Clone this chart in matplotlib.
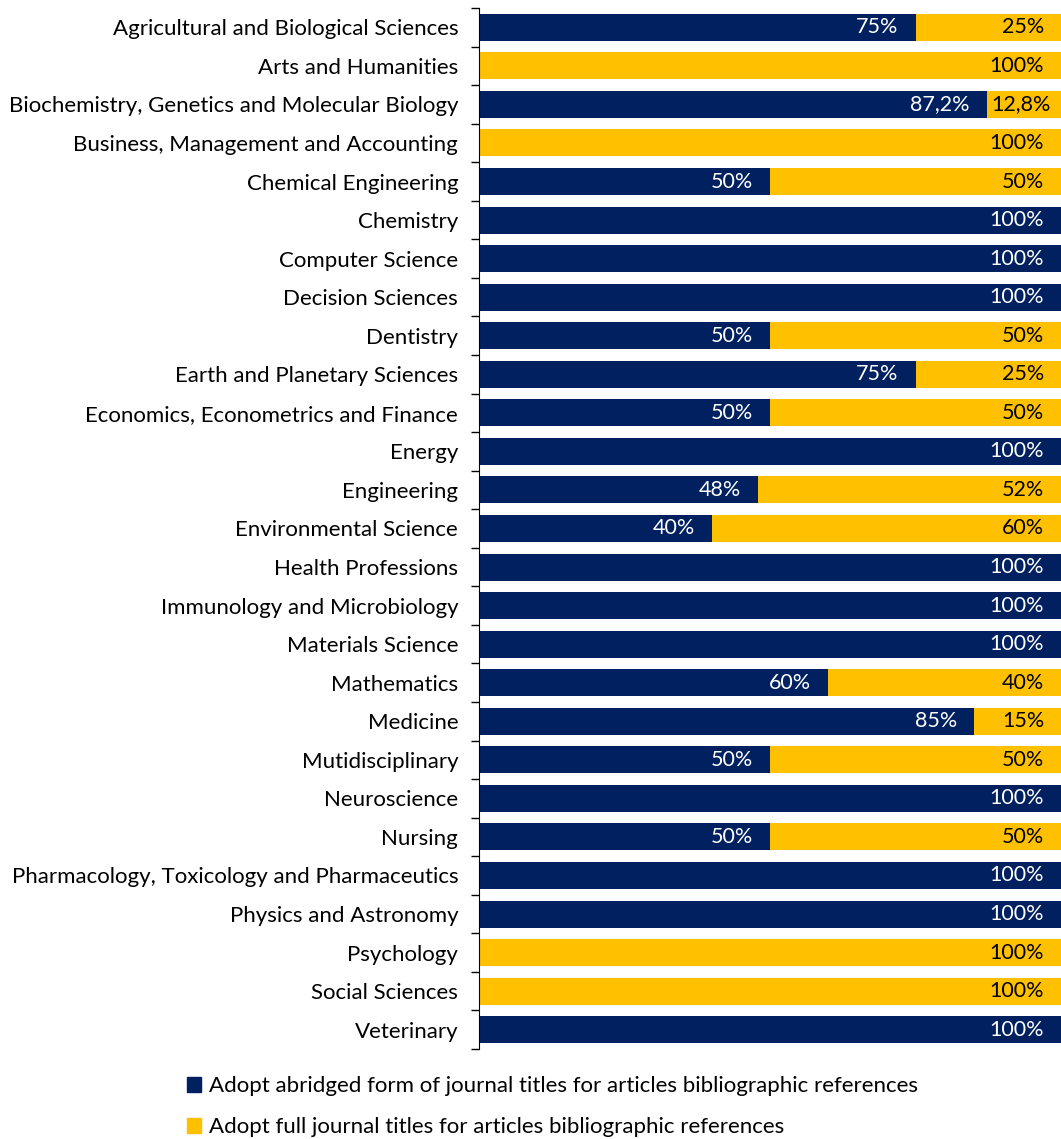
import numpy as np
import matplotlib.pyplot as plt
from matplotlib.patches import Patch

plt.rcParams['font.family'] = ['Lato', 'DejaVu Sans']

#categories (top to bottom)
categories = ['Agricultural and Biological Sciences', 'Arts and Humanities',
              'Biochemistry, Genetics and Molecular Biology', 'Business, Management and Accounting',
              'Chemical Engineering', 'Chemistry', 'Computer Science', 'Decision Sciences',
              'Dentistry', 'Earth and Planetary Sciences', 'Economics, Econometrics and Finance',
              'Energy', 'Engineering', 'Environmental Science', 'Health Professions',
              'Immunology and Microbiology', 'Materials Science', 'Mathematics', 'Medicine',
              'Mutidisciplinary', 'Neuroscience', 'Nursing',
              'Pharmacology, Toxicology and Pharmaceutics', 'Physics and Astronomy',
              'Psychology', 'Social Sciences', 'Veterinary']

#percent adopting abridged form / full titles
abridged = [75, 0, 87.2, 0, 50, 100, 100, 100, 50, 75, 50, 100, 48, 40, 100,
            100, 100, 60, 85, 50, 100, 50, 100, 100, 0, 0, 100]
full = [25, 100, 12.8, 100, 50, 0, 0, 0, 50, 25, 50, 0, 52, 60, 0,
        0, 0, 40, 15, 50, 0, 50, 0, 0, 100, 100, 0]

legend_labels = ['Adopt abridged form of journal titles for articles bibliographic references',
                 'Adopt full journal titles for articles bibliographic references']

navy = '#002060'
yellow = '#FFC000'


def fmt(v):
    if float(v).is_integer():
        return '%d%%' % v
    return ('%.1f%%' % v).replace('.', ',')


fig = plt.figure(figsize=(10.61, 11.39), dpi=100)
ax = fig.add_axes([479 / 1061, 90 / 1139, 582 / 1061, 1041 / 1139])

y = np.arange(len(categories))
ax.barh(y, abridged, height=0.7, color=navy)
ax.barh(y, full, left=abridged, height=0.7, color=yellow)

pad = 2.9
for i in range(len(categories)):
    if abridged[i] > 0:
        ax.text(abridged[i] - pad, y[i], fmt(abridged[i]), ha='right', va='center',
                color='white', fontsize=15.5)
    if full[i] > 0:
        # small segments: keep label just right of the segment start
        if full[i] < 14:
            ax.text(abridged[i] + 0.8, y[i], fmt(full[i]), ha='left', va='center',
                    color='black', fontsize=15.5)
        else:
            ax.text(abridged[i] + full[i] - pad, y[i], fmt(full[i]), ha='right', va='center',
                    color='black', fontsize=15.5)

ax.set_xlim(0, 100)
ax.set_ylim(len(categories) - 0.5, -0.5)
ax.set_yticks(y)
ax.set_yticklabels(categories, fontsize=16)
ax.set_yticks(np.arange(len(categories) + 1) - 0.5, minor=True)
ax.tick_params(axis='y', which='major', length=0, pad=15)
ax.tick_params(axis='y', which='minor', length=6, width=1, color='black')
ax.set_xticks([])
for s in ['top', 'right', 'bottom']:
    ax.spines[s].set_visible(False)
ax.spines['left'].set_color('black')

handles = [Patch(color=navy), Patch(color=yellow)]
fig.legend(handles, legend_labels, loc='upper left', bbox_to_anchor=(178 / 1061, 1 - 1067 / 1139),
           frameon=False, fontsize=16, handlelength=0.65, handleheight=0.65,
           handletextpad=0.35, labelspacing=0.95, borderaxespad=0)

fig.savefig('out.png', dpi=100)
